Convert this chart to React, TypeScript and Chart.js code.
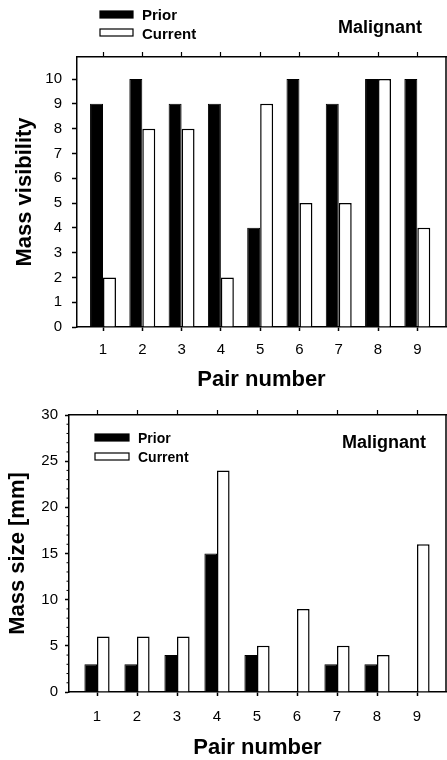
import React, { useEffect, useRef } from "react";
import { Chart, registerables } from "chart.js";

Chart.register(...registerables);

// ---- data ----
const pairNumbers = [1, 2, 3, 4, 5, 6, 7, 8, 9];
const visibilityPrior = [9, 10, 9, 9, 4, 10, 9, 10, 10];
const visibilityCurrent = [2, 8, 8, 2, 9, 5, 5, 10, 4];
const sizePrior = [3, 3, 4, 15, 4, 0, 3, 3, 0];
const sizeCurrent = [6, 6, 6, 24, 5, 9, 5, 4, 16];
const visibilityTicks = [0, 1, 2, 3, 4, 5, 6, 7, 8, 9, 10];
const sizeTicks = [0, 5, 10, 15, 20, 25, 30];
const sizeMinorTicks = [1, 2, 3, 4, 6, 7, 8, 9, 11, 12, 13, 14, 16, 17, 18, 19, 21, 22, 23, 24, 26, 27, 28, 29];
const seriesNames = ["Prior", "Current"];
const panelLabel = "Malignant";

const FONT = "'Liberation Sans', Arial, Helvetica, sans-serif";

type Panel = {
  prior: number[];
  current: number[];
  yTicks: number[];
  yMinor: number[];
  yMax: number;
  yTitle: string;
  xMin: number;
  xMax: number;
  yW: number;
  xH: number;
  topH: number;
  tickSize: number;
  yTickLen: number;
  yTickPad: number;
  xTickPad: number;
  yTitlePad: number;
  catPct: number;
  legend: { sx: number; sw: number; sh: number; sy: number[]; tx: number; ty: number[]; size: number };
  label: { x: number; y: number; size: number };
};

const annotPlugin = {
  id: "annot",
  afterDraw(chart: any, _args: any, opts: any) {
    const ctx = chart.ctx;
    const { left, right, top, bottom } = chart.chartArea;
    ctx.save();
    ctx.strokeStyle = "#000";
    ctx.lineWidth = 1.5;
    ctx.beginPath();
    ctx.moveTo(right, top);
    ctx.lineTo(right, bottom);
    ctx.stroke();
    // minor y ticks
    ctx.lineWidth = 1;
    (opts.minor || []).forEach((v: number) => {
      const py = chart.scales.y.getPixelForValue(v);
      ctx.beginPath();
      ctx.moveTo(left - 2.5, py);
      ctx.lineTo(left, py);
      ctx.stroke();
    });
    const lg = opts.legend;
    chart.data.datasets.forEach((ds: any, i: number) => {
      ctx.fillStyle = ds.backgroundColor;
      ctx.fillRect(lg.sx, lg.sy[i], lg.sw, lg.sh);
      ctx.strokeStyle = "#000";
      ctx.lineWidth = 1.2;
      ctx.strokeRect(lg.sx, lg.sy[i], lg.sw, lg.sh);
      ctx.fillStyle = "#000";
      ctx.font = `bold ${lg.size}px ${FONT}`;
      ctx.textBaseline = "alphabetic";
      ctx.textAlign = "left";
      ctx.fillText(ds.label, lg.tx, lg.ty[i]);
    });
    const lb = opts.label;
    ctx.font = `bold ${lb.size}px ${FONT}`;
    ctx.fillStyle = "#000";
    ctx.fillText(opts.text, lb.x, lb.y);
    ctx.restore();
  },
};

function makeConfig(p: Panel): any {
  const setTicks = (vals: number[]) => (s: any) => {
    s.ticks = vals.map((v) => ({ value: v }));
  };
  const tickFont = { family: FONT, size: p.tickSize };
  const titleFont = { family: FONT, size: 22, weight: "bold", lineHeight: 1 };
  return {
    type: "bar",
    data: {
      datasets: [
        {
          label: seriesNames[0],
          data: pairNumbers.map((x, i) => ({ x, y: p.prior[i] })),
          backgroundColor: "#000",
          borderColor: "#000",
          borderWidth: 1,
          categoryPercentage: p.catPct,
          barPercentage: 1,
        },
        {
          label: seriesNames[1],
          data: pairNumbers.map((x, i) => ({ x, y: p.current[i] })),
          backgroundColor: "#fff",
          borderColor: "#000",
          borderWidth: 1.5,
          categoryPercentage: p.catPct,
          barPercentage: 1,
        },
      ],
    },
    options: {
      responsive: false,
      animation: false,
      devicePixelRatio: 1,
      layout: { padding: { top: 0, right: 1, left: 0, bottom: 0 } },
      plugins: {
        legend: { display: false },
        tooltip: { enabled: false },
        annot: { legend: p.legend, label: p.label, text: panelLabel, minor: p.yMinor },
      },
      scales: {
        x: {
          type: "linear",
          position: "bottom",
          offset: false,
          min: p.xMin,
          max: p.xMax,
          afterBuildTicks: setTicks(pairNumbers),
          afterFit: (s: any) => {
            s.height = p.xH;
          },
          grid: { drawOnChartArea: false, offset: false, tickLength: 4, color: "#000", tickColor: "#000", tickWidth: 1.5 },
          border: { display: true, color: "#000", width: 1.5 },
          ticks: { padding: p.xTickPad, font: tickFont, color: "#000", autoSkip: false, maxRotation: 0 },
          title: { display: true, text: "Pair number", font: titleFont, color: "#000", padding: { top: 0, bottom: 1 } },
        },
        x2: {
          type: "linear",
          position: "top",
          offset: false,
          min: p.xMin,
          max: p.xMax,
          afterBuildTicks: setTicks(pairNumbers),
          afterFit: (s: any) => {
            s.height = p.topH;
          },
          grid: { drawOnChartArea: false, offset: false, tickLength: 5, color: "#000", tickColor: "#000", tickWidth: 1.2 },
          border: { display: true, color: "#000", width: 1.5 },
          ticks: { display: false },
        },
        y: {
          min: 0,
          max: p.yMax,
          afterBuildTicks: setTicks(p.yTicks),
          afterFit: (s: any) => {
            s.width = p.yW;
          },
          grid: { drawOnChartArea: false, tickLength: p.yTickLen, color: "#000", tickColor: "#000", tickWidth: 1.5 },
          border: { display: true, color: "#000", width: 1.5 },
          ticks: { padding: p.yTickPad, font: tickFont, color: "#000" },
          title: { display: true, text: p.yTitle, font: titleFont, color: "#000", padding: { top: p.yTitlePad, bottom: 0 } },
        },
      },
    },
    plugins: [annotPlugin],
  };
}

const topPanel: Panel = {
  prior: visibilityPrior,
  current: visibilityCurrent,
  yTicks: visibilityTicks,
  yMinor: [],
  yMax: 10.89,
  yTitle: "Mass visibility",
  xMin: 0.338,
  xMax: 9.73,
  yW: 77,
  xH: 65,
  topH: 57,
  tickSize: 15,
  yTickLen: 5,
  yTickPad: 10,
  xTickPad: 10,
  yTitlePad: 14,
  catPct: 0.66,
  legend: { sx: 100, sw: 33, sh: 7, sy: [11, 29], tx: 142, ty: [20, 39], size: 15 },
  label: { x: 338, y: 33, size: 18 },
};

const bottomPanel: Panel = {
  prior: sizePrior,
  current: sizeCurrent,
  yTicks: sizeTicks,
  yMinor: sizeMinorTicks,
  yMax: 30,
  yTitle: "Mass size [mm]",
  xMin: 0.3,
  xMax: 9.725,
  yW: 69,
  xH: 68,
  topH: 23,
  tickSize: 15,
  yTickLen: 4,
  yTickPad: 7,
  xTickPad: 12,
  yTitlePad: 6.5,
  catPct: 0.63,
  legend: { sx: 95, sw: 34, sh: 7, sy: [42, 61], tx: 138, ty: [51, 70], size: 14 },
  label: { x: 342, y: 56, size: 18 },
};

function BarPanel({ panel, width, height }: { panel: Panel; width: number; height: number }) {
  const ref = useRef<HTMLCanvasElement>(null);
  useEffect(() => {
    const chart = new Chart(ref.current as HTMLCanvasElement, makeConfig(panel));
    return () => chart.destroy();
  }, [panel]);
  return <canvas ref={ref} width={width} height={height} style={{ display: "block", width, height }} />;
}

export default function App() {
  useEffect(() => {
    document.body.style.margin = "0";
  }, []);
  return (
    <div style={{ width: 447, height: 760, background: "#fff" }}>
      <style>{"body{margin:0;background:#fff}"}</style>
      <BarPanel panel={topPanel} width={447} height={392} />
      <BarPanel panel={bottomPanel} width={447} height={368} />
    </div>
  );
}
